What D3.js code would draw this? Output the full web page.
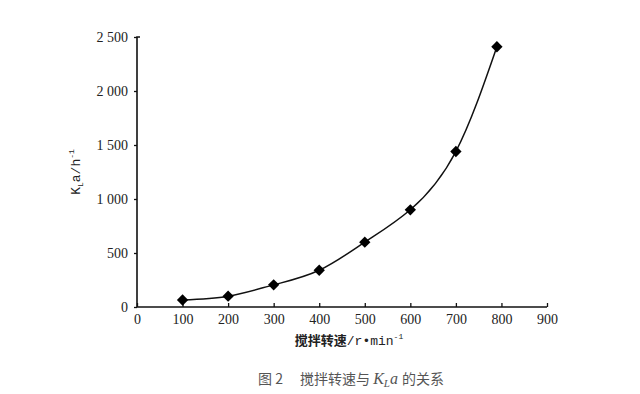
<!DOCTYPE html>
<html>
<head>
<meta charset="utf-8">
<script src="https://cdn.jsdelivr.net/npm/d3@7"></script>
<style>
  body { margin: 0; background: #fff; }
  svg { display: block; }
</style>
</head>
<body>
<div id="chart"></div>
<script>
// data
const speeds = [100, 200, 300, 400, 500, 600, 700, 790];
const klaValues = [65, 100, 205, 340, 600, 900, 1440, 2410];
const xTicks = [0, 100, 200, 300, 400, 500, 600, 700, 800, 900];
const yTicks = [0, 500, 1000, 1500, 2000, 2500];

const W = 640, H = 394;
const margin = {left: 137, top: 37, right: 93, bottom: 87};
const serif = "'Liberation Serif', 'DejaVu Serif', serif";

const svg = d3.select("#chart").append("svg")
    .attr("width", W)
    .attr("height", H)
    .attr("font-family", serif);

const x = d3.scaleLinear().domain([0, 900]).range([margin.left, W - margin.right]);
const y = d3.scaleLinear().domain([0, 2500]).range([H - margin.bottom, margin.top]);

const fmt = v => v >= 1000 ? d3.format(",")(v).replace(",", " ") : String(v);

// x axis, ticks pointing up
const gx = svg.append("g")
    .attr("transform", `translate(0,${y(0)})`)
    .call(d3.axisBottom(x).tickValues(xTicks).tickSize(-4).tickPadding(7).tickFormat(d => d))
    .attr("font-family", serif).attr("font-size", 14);
gx.select(".domain").attr("stroke", "#111").attr("stroke-width", 1.6).attr("d", `M${x(0)},0H${x(900)}`);
gx.selectAll(".tick line").attr("stroke", "#111").attr("stroke-width", 1.3);
gx.selectAll(".tick text").attr("fill", "#222");

// y axis
const gy = svg.append("g")
    .attr("transform", `translate(${x(0)},0)`)
    .call(d3.axisLeft(y).tickValues(yTicks).tickSize(3).tickPadding(6).tickFormat(fmt))
    .attr("font-family", serif).attr("font-size", 14);
gy.select(".domain").attr("stroke", "#111").attr("stroke-width", 1.6).attr("d", `M3,${y(2500)}H0V${y(0)}`);
gy.selectAll(".tick line").attr("stroke", "#111").attr("stroke-width", 1.3);
gy.selectAll(".tick text").attr("fill", "#222");

// fitted curve through the points
const pts = speeds.map((s, i) => [s, klaValues[i]]);
svg.append("path")
    .datum(pts)
    .attr("fill", "none")
    .attr("stroke", "#111")
    .attr("stroke-width", 1.5)
    .attr("d", d3.line().x(d => x(d[0])).y(d => y(d[1])).curve(d3.curveNatural));

// diamond markers
svg.selectAll(".pt")
    .data(pts)
    .join("path")
    .attr("class", "pt")
    .attr("transform", d => `translate(${x(d[0])},${y(d[1])}) rotate(45)`)
    .attr("d", "M-4,-4H4V4H-4Z")
    .attr("fill", "#000");

// y label
const mono = "'Liberation Mono', 'DejaVu Sans Mono', monospace";
const yl = svg.append("text")
    .attr("transform", `translate(80,${(y(0) + y(2500)) / 2}) rotate(-90)`)
    .attr("text-anchor", "middle")
    .attr("font-family", mono)
    .attr("font-size", 13)
    .attr("fill", "#222");
yl.append("tspan").text("K");
yl.append("tspan").attr("font-size", 8).attr("dy", 3).text("L");
yl.append("tspan").attr("dy", -3).text("a/h");
yl.append("tspan").attr("font-size", 8).attr("dy", -6).text("-1");

// x label
const xl = svg.append("text")
    .attr("x", 349)
    .attr("y", 345)
    .attr("text-anchor", "middle")
    .attr("font-family", mono)
    .attr("font-size", 13)
    .attr("fill", "#222");
xl.append("tspan").attr("font-family", "'Noto Sans CJK SC'").attr("font-weight", "bold").attr("font-size", 13).text("搅拌转速");
xl.append("tspan").text("/r•min");
xl.append("tspan").attr("font-size", 8).attr("dy", -6).text("-1");

// caption
const cap = svg.append("text")
    .attr("x", 351)
    .attr("y", 384)
    .attr("text-anchor", "middle")
    .attr("font-size", 16)
    .attr("fill", "#555");
cap.append("tspan").attr("font-family", "'Noto Sans CJK SC'").attr("font-size", 14).text("图 2　 搅拌转速与 ");
cap.append("tspan").attr("font-style", "italic").text("K");
cap.append("tspan").attr("font-style", "italic").attr("font-size", 11).attr("dy", 3).text("L");
cap.append("tspan").attr("font-style", "italic").attr("dy", -3).text("a ");
cap.append("tspan").attr("font-family", "'Noto Sans CJK SC'").attr("font-size", 14).text("的关系");
</script>
</body>
</html>
